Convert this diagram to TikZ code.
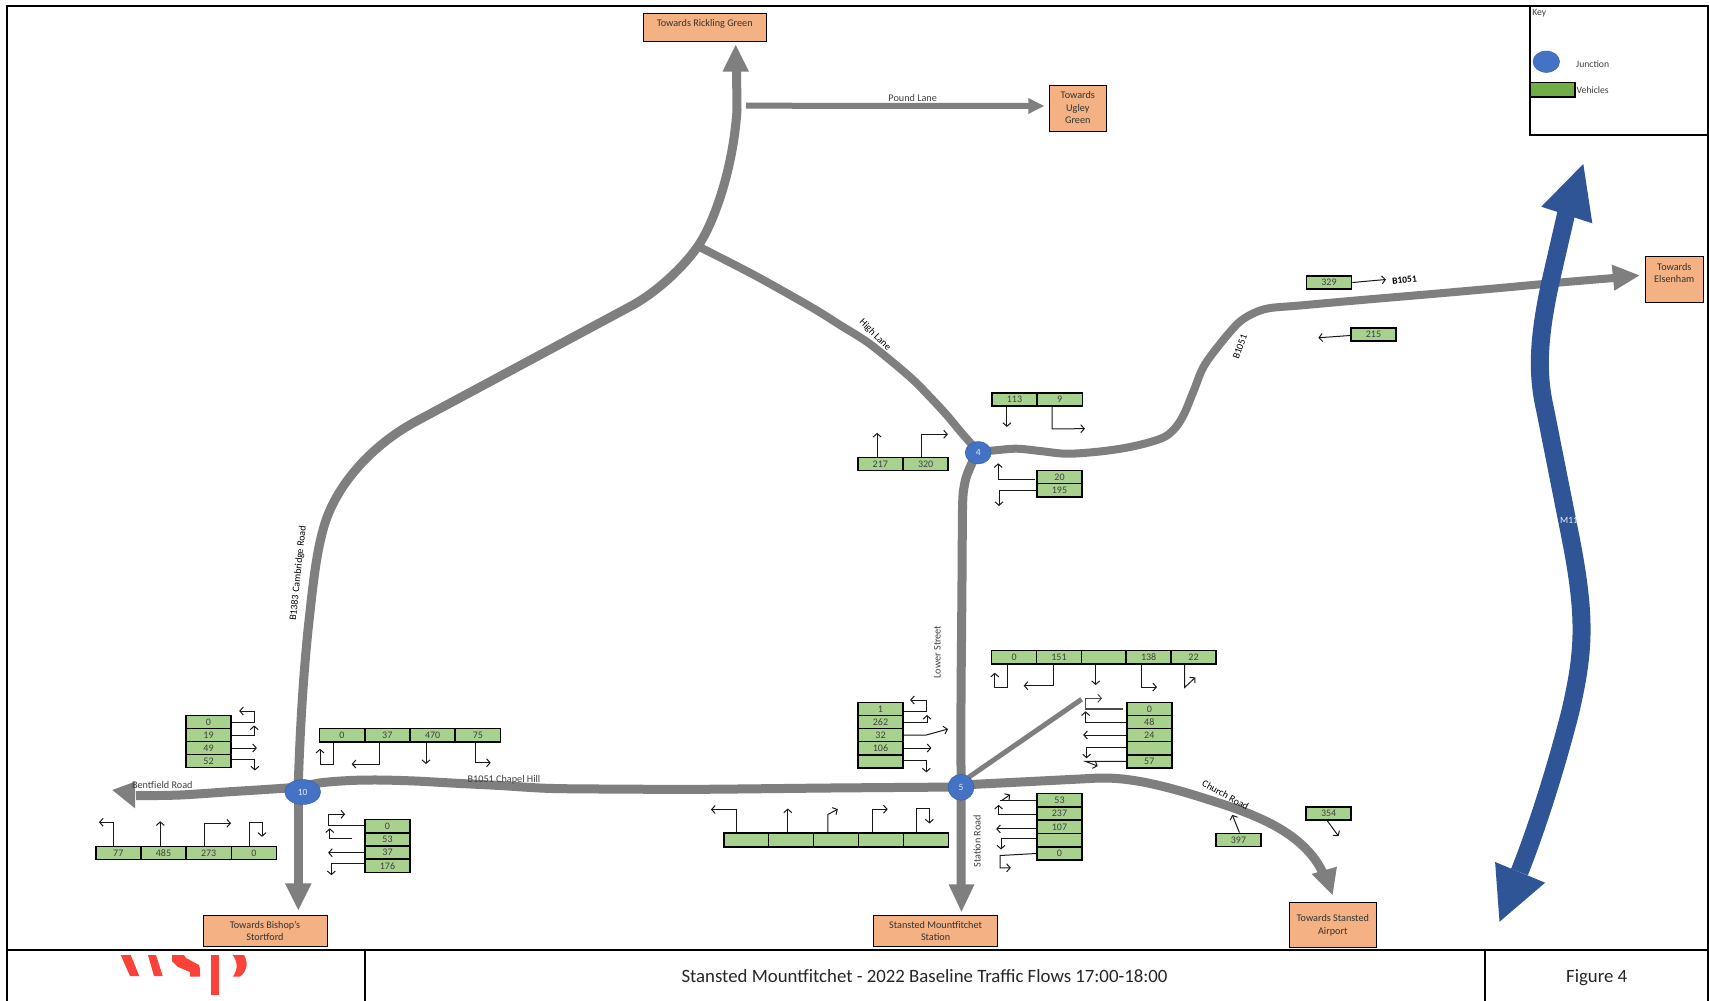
\documentclass[tikz,border=0pt]{standalone}
\usepackage{fontspec}
\setmainfont{Carlito}
\usetikzlibrary{shapes.geometric,arrows.meta}
\definecolor{roadgrey}{HTML}{7F7F7F}
\definecolor{cellgreen}{HTML}{A9D18E}
\definecolor{keygreen}{HTML}{70AD47}
\definecolor{boxorange}{HTML}{F4B183}
\definecolor{junctionblue}{HTML}{4472C4}
\definecolor{motorblue}{HTML}{2F5597}
\definecolor{logored}{HTML}{FA4238}
\definecolor{textgrey}{HTML}{404040}
\tikzset{
  road/.style={draw=roadgrey,line width=9pt,line join=round},
  roadhead/.style={fill=roadgrey},
  motorway/.style={draw=motorblue,line width=18pt,line join=round},
  frameline/.style={draw=black,line width=2.2pt},
  cell/.style={draw=black,fill=cellgreen,line width=1.6pt,inner sep=0pt,minimum width=45.2pt,minimum height=13.3pt,font=\fontsize{10}{10}\selectfont,text=textgrey},
  destbox/.style={draw=black,fill=boxorange,line width=.9pt,inner sep=0pt},
  desttext/.style={font=\fontsize{10.2}{12.3}\selectfont,text=black!80,align=center,inner sep=0pt},
  junction/.style={ellipse,fill=junctionblue,draw=junctionblue!80!black,line width=.4pt,inner sep=0pt,text=white!85!junctionblue,font=\fontsize{9.5}{10}\selectfont},
  flow/.style={draw=black!90,line width=1pt,-{Straight Barb[length=3.5pt,width=8pt,line width=1pt]}},
  roadlabel/.style={font=\fontsize{10.2}{10}\selectfont,text=textgrey,inner sep=0pt},
  roadlabelb/.style={font=\fontsize{10}{10}\selectfont,text=black,inner sep=0pt},
  keylabel/.style={inner sep=0pt,font=\fontsize{9.7}{10}\selectfont,text=textgrey},
  titlelabel/.style={inner sep=0pt,font=\fontsize{18.8}{20}\selectfont,text=black!85},
}
\begin{document}
\begin{tikzpicture}[x=1pt,y=-1pt]
\useasboundingbox (0,0) rectangle (1709,1001);
\fill[white] (0,0) rectangle (1709,1001);

% roads
\draw[road] (298,792) .. controls (300,730) and (303,680) .. (308,630) .. controls (313,585) and (316,552) .. (325,523) .. controls (338,483) and (372,446) .. (413,423) -- (633,305) .. controls (658,291) and (686,265) .. (700,243) .. controls (714,221) and (733,170) .. (737,110) -- (736.5,68);
\fill[roadhead] (735.7,45) -- (749,71.7) -- (722.4,71.7) -- cycle;
\draw[road,line width=8pt] plot[smooth,tension=.55] coordinates {(700,247.3) (732,263.5) (763.3,280) (813.3,308.3) (840,325) (866.7,341.7) (890,360) (913.3,380) (930,397) (946.7,415) (960,431) (975,448)};
\draw[road,line width=6pt] (746,105.7) -- (1030,106);
\fill[roadhead] (1044,106) -- (1028.3,114) -- (1028.3,98) -- cycle;
\draw[road,line width=8pt] plot[smooth,tension=.55] coordinates {(978,451) (991,450.7) (1016,448.7) (1040,451) (1066,453.7) (1095,452) (1123,448.3) (1147,443) (1165,436.7) (1176,427) (1184.4,413.3) (1194,390) (1203.6,366.7) (1220,344) (1238,323.3) (1252,314) (1268.6,308.3) (1300,305.5) (1350,301) (1440,293.3) (1500,288) (1560,282.5) (1614,278)};
\fill[roadhead] (1639.3,275.4) -- (1614.3,290.7) -- (1611.7,264.6) -- cycle;
\draw[road] plot[smooth,tension=.5] coordinates {(978,452) (972,463) (966,478) (963.2,493) (962.5,510) (962.3,530) (962,580) (961.5,640) (961,700) (961,787) (961,886)};
\fill[roadhead] (961.5,911.7) -- (948.5,884.3) -- (974.5,884.3) -- cycle;
\draw[road,line width=5pt] (1081.6,699.3) -- (968.6,777.3);
\draw[road] (961,785) -- (1090,778.5) .. controls (1125,776) and (1160,783) .. (1231,807) .. controls (1262,818) and (1305,835) .. (1323,873);
\fill[roadhead] (1332.5,895) -- (1311.6,874) -- (1336.9,866.7) -- cycle;
\draw[road] plot[smooth,tension=.5] coordinates {(961,787) (830,788) (700,789.3) (600,789) (546.4,788.3) (500,785.5) (457,783.3) (415,781) (378.6,780) (350,780.5) (321.4,782.7) (298,787) (265,789.5) (230,791.7) (180,795) (136,795.7)};
\fill[roadhead] (112.3,790) -- (135,781.7) -- (135,808.3) -- cycle;
\draw[road,line width=9.3pt] (298.3,792) -- (298.3,885);
\fill[roadhead] (298.3,910) -- (285,883.3) -- (311.6,883.3) -- cycle;

% M11
\draw[motorway] (1567,210) -- (1550,284) .. controls (1538,340) and (1537,374) .. (1545,409) -- (1572,545) .. controls (1586,620) and (1584,653) .. (1570,713) .. controls (1558,760) and (1540,820) .. (1519.5,872);
\fill[motorblue] (1583.3,164) -- (1592.3,223.3) -- (1541.3,206.7) -- cycle;
\fill[motorblue] (1499.5,921.7) -- (1495.1,862) -- (1545.1,882.7) -- cycle;
\node[font=\fontsize{9.5}{10}\selectfont,text=white!90!motorblue,inner sep=0pt] (m11) at (1569,520.7) {M11};

% destinations
\node[destbox,minimum width=123.3pt,minimum height=27.6pt] (rickling) at (704.7,27.5) {};
\node[desttext] (ricklingt) at (704.7,24) {Towards Rickling Green};
\node[destbox,minimum width=57.7pt,minimum height=46pt] (ugley) at (1077.8,108.3) {};
\node[desttext] (ugleyt) at (1077.8,107.6) {Towards\\Ugley\\Green};
\node[destbox,minimum width=57.6pt,minimum height=46pt] (elsenham) at (1674.5,279.8) {};
\node[desttext] (elsenhamt) at (1674.3,273.2) {Towards\\Elsenham};
\node[destbox,minimum width=123.3pt,minimum height=31.7pt] (bishops) at (265.3,930.8) {};
\node[desttext] (bishopst) at (265,930.6) {Towards Bishop's\\Stortford};
\node[destbox,minimum width=123.8pt,minimum height=31.7pt] (station) at (935.6,930.8) {};
\node[desttext] (stationt) at (935.6,930.8) {Stansted Mountfitchet\\Station};
\node[destbox,minimum width=87.7pt,minimum height=44.6pt] (airport) at (1332.8,925) {};
\node[desttext,font=\fontsize{10.2}{13}\selectfont] (airportt) at (1332.8,925.7) {Towards Stansted\\Airport};

% junctions
\node[junction,minimum width=36pt,minimum height=25pt] (J10) at (302.7,792) {10};
\node[junction,minimum width=26pt,minimum height=26pt] (J5) at (961,787.3) {5};
\node[junction,minimum width=26pt,minimum height=22.5pt] (J4) at (978.2,452.7) {4};

% road labels
\node[roadlabel] (lbent) at (162.3,784.6) {Bentfield Road};
\node[roadlabel] (lchapel) at (504,779.6) {B1051 Chapel Hill};
\node[roadlabel] (lpound) at (912.7,97.9) {Pound Lane};
\node[roadlabel,rotate=90] (llower) at (937.4,652) {Lower Street};
\node[roadlabel,rotate=90] (lstation) at (977.2,841.3) {Station Road};
\node[roadlabelb,rotate=84] (lcam) at (298.3,573.3) {B1383 Cambridge Road};
\node[roadlabelb,rotate=-45] (lhigh) at (875,335) {High Lane};
\node[roadlabelb,font=\fontsize{9.5}{10}\bfseries,rotate=6] (lb1) at (1404.5,280) {B1051};
\node[roadlabelb,rotate=70] (lb2) at (1239.9,346.7) {B1051};
\node[roadlabelb,rotate=-29] (lchurch) at (1225.5,795) {Church Road};

% cells: group A
\node[cell] (a1) at (208.5,722) {0};
\node[cell] (a2) at (208.5,735) {19};
\node[cell] (a3) at (208.5,748) {49};
\node[cell] (a4) at (208.5,761) {52};
\draw[flow] (a1.east) -- ++(22.3,0) -- ++(0,-11) -- ++(-15,0);
\draw[flow] (a2.east) -- ++(22.3,0) -- ++(0,-9.5);
\draw[flow] (a3.east) -- ++(25,0);
\draw[flow] ([yshift=1.5pt]a4.east) -- ++(23,0) -- ++(0,11);
% group B
\node[cell] (b1) at (342,735.3) {0};
\node[cell] (b2) at (387.3,735.3) {37};
\node[cell] (b3) at (432.6,735.3) {470};
\node[cell] (b4) at (477.9,735.3) {75};
\draw[flow] ([xshift=-8.7pt]b1.south) -- ++(0,22) -- ++(-13.3,0) -- ++(0,-16);
\draw[flow] ([xshift=-8.3pt]b2.south) -- ++(0,21.3) -- ++(-27.3,0);
\draw[flow] ([xshift=-6.6pt]b3.south) -- ++(0,21.3);
\draw[flow] ([xshift=-2.2pt]b4.south) -- ++(0,20) -- ++(15,0);
% group C
\node[cell] (c1) at (118.3,853) {77};
\node[cell] (c2) at (163.5,853) {485};
\node[cell] (c3) at (208.7,853) {273};
\node[cell] (c4) at (253.9,853) {0};
\draw[flow] ([xshift=-5pt]c1.north) -- ++(0,-23.3) -- ++(-14.3,0);
\draw[flow] ([xshift=-3.2pt]c2.north) -- ++(0,-24.3);
\draw[flow] ([xshift=-4pt]c3.north) -- ++(0,-22.3) -- ++(26.3,0);
\draw[flow] ([xshift=-4.9pt]c4.north) -- ++(0,-23) -- ++(13,0) -- ++(0,14.3);
% group D
\node[cell] (d1) at (387.5,826.3) {0};
\node[cell] (d2) at (387.5,839.5) {53};
\node[cell] (d3) at (387.5,852.7) {37};
\node[cell] (d4) at (387.5,865.9) {176};
\draw[flow] ([yshift=1.3pt]d1.west) -- ++(-36,0) -- ++(0,-10.7) -- ++(17,0);
\draw[flow] ([xshift=-11.7pt,yshift=.8pt]d2.west) -- ++(-22.6,0) -- ++(0,-10.4);
\draw[flow] (d3.west) -- ++(-36,0);
\draw[flow] ([yshift=2pt]d4.west) -- ++(-32.7,0) -- ++(0,11.3);
% group E
\node[cell] (e1) at (880.5,709) {1};
\node[cell] (e2) at (880.5,722) {262};
\node[cell] (e3) at (880.5,735) {32};
\node[cell] (e4) at (880.5,748) {106};
\node[cell] (e5) at (880.5,761.4) {};
\draw[flow] ([yshift=-2pt]e1.east) -- ++(22.4,0) -- ++(0,-11) -- ++(-16.2,0);
\draw[flow] ([yshift=-.7pt]e2.east) -- ++(23.1,0) -- ++(0,-7.7);
\draw[flow] (e3.east) -- ++(22.4,0) -- ++(21.7,-6);
\draw[flow] (e4.east) -- ++(27.5,0);
\draw[flow] ([yshift=1pt]e5.east) -- ++(22.4,0) -- ++(0,12);
% group F
\node[cell,minimum width=44.85pt] (f1) at (1014.1,657.3) {0};
\node[cell,minimum width=44.85pt] (f2) at (1059,657.3) {151};
\node[cell,minimum width=44.85pt] (f3) at (1103.8,657.3) {};
\node[cell,minimum width=44.85pt] (f4) at (1148.6,657.3) {138};
\node[cell,minimum width=44.85pt] (f5) at (1193.5,657.3) {22};
\draw[flow] ([xshift=-6.9pt]f1.south) -- ++(0,22.7) -- ++(-12.4,0) -- ++(0,-14.7);
\draw[flow] ([xshift=-5.3pt]f2.south) -- ++(0,21) -- ++(-30,0);
\draw[flow] ([xshift=-8.1pt]f3.south) -- ++(0,20.3);
\draw[flow] ([xshift=-6.7pt]f4.south) -- ++(0,22.3) -- ++(15.1,0);
\draw[flow] ([xshift=-8.9pt]f5.south) -- ++(0,22.7) -- ++(10.7,-10);
% group G
\node[cell] (g1) at (1149.3,709) {0};
\node[cell] (g2) at (1149.3,722) {48};
\node[cell] (g3) at (1149.3,735) {24};
\node[cell] (g4) at (1149.3,748) {};
\node[cell] (g5) at (1149.3,761.4) {57};
\draw[flow,draw=black!70,line width=1.3pt] ([xshift=-2.5pt]g1.west) -- ++(-37.9,0) -- ++(0,-10.7) -- ++(16.5,0);
\draw[flow] (g2.west) -- ++(-40.3,0) -- ++(0,-10.7);
\draw[flow] (g3.west) -- ++(-42.7,0);
\draw[flow] ([yshift=1pt]g4.west) -- ++(-39.3,0) -- ++(0,11.3);
\draw[flow] (g5.west) -- ++(-40.3,0) -- ++(12.1,4.7);
% group H
\node[cell] (h1) at (1059.5,800.3) {53};
\node[cell] (h2) at (1059.5,813.6) {237};
\node[cell] (h3) at (1059.5,826.9) {107};
\node[cell] (h4) at (1059.5,840.2) {};
\node[cell] (h5) at (1059.5,853.5) {0};
\draw[black!90,line width=1pt] (h1.west) -- ++(-36.5,0);
\draw[flow] ([xshift=-34pt]h1.west) -- ++(8,-5.7);
\draw[flow] ([yshift=-1pt]h2.west) -- ++(-37.5,0) -- ++(0,-9.7);
\draw[flow] ([yshift=-2pt]h3.west) -- ++(-39.9,0);
\draw[flow] ([yshift=1.3pt]h4.west) -- ++(-35.1,0) -- ++(0,10.6);
\draw[flow] (h5.west) -- ++(-35.9,2) -- ++(0,12.3) -- ++(10.6,0);
% group I
\node[cell,minimum width=44.9pt,minimum height=14pt] (i1) at (746.2,840) {};
\node[cell,minimum width=44.9pt,minimum height=14pt] (i2) at (791.1,840) {};
\node[cell,minimum width=44.9pt,minimum height=14pt] (i3) at (836,840) {};
\node[cell,minimum width=44.9pt,minimum height=14pt] (i4) at (881,840) {};
\node[cell,minimum width=44.9pt,minimum height=14pt] (i5) at (925.9,840) {};
\draw[flow] ([xshift=-10pt]i1.north) -- ++(0,-22.7) -- ++(-25.2,0);
\draw[flow] ([xshift=-3.3pt]i2.north) -- ++(0,-23.7);
\draw[flow] ([xshift=-8.2pt]i3.north) -- ++(0,-17.7) -- ++(10,-5.3);
\draw[flow] ([xshift=-8.5pt]i4.north) -- ++(0,-23) -- ++(15.2,0);
\draw[flow] ([xshift=-9.3pt]i5.north) -- ++(0,-23.7) -- ++(12.8,0) -- ++(0,15);
% group J
\node[cell] (j1) at (1014.5,399.5) {113};
\node[cell] (j2) at (1059.7,399.5) {9};
\draw[flow] ([xshift=-7.6pt]j1.south) -- ++(0,20);
\draw[flow] ([xshift=-7.7pt]j2.south) -- ++(0,22) -- ++(32.9,-.3);
% group K
\node[cell] (k1) at (880.3,464) {217};
\node[cell] (k2) at (925.6,464) {320};
\draw[flow] ([xshift=-3.2pt]k1.north) -- ++(0,-23.7);
\draw[flow] ([xshift=-3.7pt]k2.north) -- ++(0,-22.3) -- ++(26,0);
% group L
\node[cell] (l1) at (1059.5,477) {20};
\node[cell] (l2) at (1059.5,490.3) {195};
\draw[flow] ([xshift=-1.5pt,yshift=-2pt]l1.west) -- ++(-36.4,0) -- ++(0,-15.7);
\draw[flow] (l2.west) -- ++(-37.1,0) -- ++(0,15.7);
% singles
\node[cell] (m) at (1329,282.5) {329};
\node[cell] (n) at (1373.5,334.5) {215};
\node[cell] (o) at (1328.6,813.5) {354};
\node[cell] (p) at (1238.5,840) {397};
\draw[flow] (m.east) -- ++(33.6,-3);
\draw[flow] ([yshift=-1pt]n.west) -- ++(-31.8,2.3);
\draw[flow] ([xshift=-1.2pt]o.south) -- ++(11.2,15.3);
\draw[flow] ([xshift=.9pt]p.north) -- ++(-7.1,-17.7);

% frame
\draw[frameline] (7.2,1001) -- (7.2,6) -- (1708,6) -- (1708,1001);
\draw[frameline] (7.2,950) -- (1708,950);
\draw[frameline] (365,950) -- (365,1001);
\draw[frameline] (1484.7,950) -- (1484.7,1001);
\draw[frameline] (1530,6) -- (1530,135) -- (1708,135);

% key
\node[keylabel] (keyt) at (1539.3,13.6) {Key};
\node[ellipse,fill=junctionblue,draw=junctionblue!80!black,line width=.4pt,minimum width=26.6pt,minimum height=21.4pt,inner sep=0pt] (keyj) at (1546.3,61.7) {};
\node[keylabel] (keyjt) at (1592.7,63.8) {Junction};
\node[draw=black,fill=keygreen,line width=1.6pt,minimum width=45.3pt,minimum height=14.3pt,inner sep=0pt] (keyv) at (1552.6,89.8) {};
\node[keylabel] (keyvt) at (1592.7,90) {Vehicles};

% title
\node[titlelabel] (title) at (924.5,976) {Stansted Mountfitchet - 2022 Baseline Traffic Flows 17:00-18:00};
\node[titlelabel] (figure) at (1596.7,978) {Figure 4};

% logo
\fill[logored] (120.7,955) -- (130.7,955) -- (139.3,976) -- (130,976) -- cycle;
\fill[logored] (148,955) -- (156,955) -- (162.7,976) -- (154,976) -- cycle;
\fill[logored] (172,955) -- (184,955) -- (186,958) -- (199,965) -- (200,969) -- (200,976.5) -- (190,976.5) -- (190,972) -- (178,967) -- (172,961) -- cycle;
\fill[logored] (210.7,955) -- (219,955) -- (219,995) -- (210.7,995) -- cycle;
\fill[logored] (232.7,955) -- (244,955) .. controls (248,962) and (248,970) .. (240,976.7) -- (232.7,976.7) .. controls (238,970) and (238,962) .. (232.7,955) -- cycle;
\end{tikzpicture}
\end{document}
